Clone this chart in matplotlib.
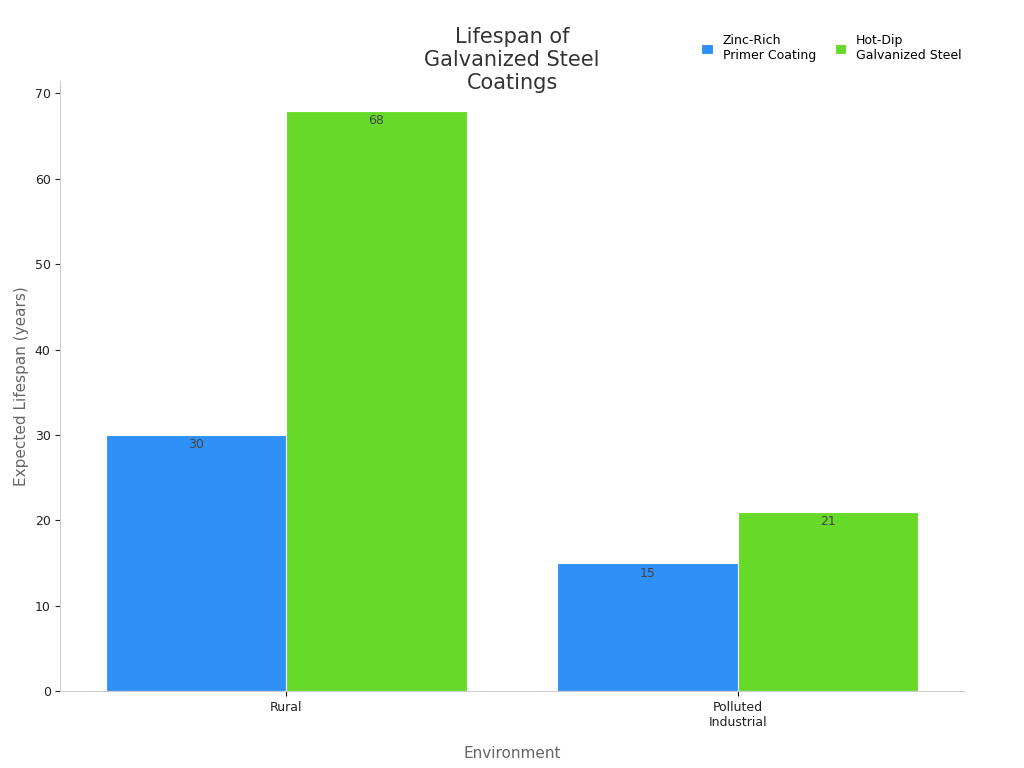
import matplotlib
matplotlib.use("Agg")
import matplotlib.pyplot as plt
import numpy as np

categories = ["Rural", "Polluted\nIndustrial"]
series_names = ["Zinc-Rich\nPrimer Coating", "Hot-Dip\nGalvanized Steel"]
zinc = [30, 15]
hotdip = [68, 21]
colors = ["#2f91f7", "#67da29"]

fig = plt.figure(figsize=(10.24, 7.68), dpi=100)
ax = fig.add_axes([0.059, 0.1, 0.882, 0.795])
x = np.arange(len(categories))
w = 0.4
for vals, off, c, name in [(zinc, -w/2, colors[0], series_names[0]), (hotdip, w/2, colors[1], series_names[1])]:
    bars = ax.bar(x + off, vals, w, color=c, edgecolor="white", linewidth=0.8, label=name)
    for b, v in zip(bars, vals):
        ax.text(b.get_x() + b.get_width()/2, v - 0.4, str(v), ha="center", va="top", fontsize=9, color="#444444")
ax.set_xlim(-0.5, 1.5)
ax.set_ylim(0, 71.5)
ax.set_xticks(x)
ax.set_xticklabels(categories, fontsize=9, color="#222222")
ax.set_yticks(range(0, 71, 10))
ax.tick_params(axis="y", labelsize=9, colors="#222222")
for s in ["top", "right"]:
    ax.spines[s].set_visible(False)
for s in ["left", "bottom"]:
    ax.spines[s].set_color("#cccccc")
ax.set_xlabel("Environment", fontsize=11, color="#666666", labelpad=12)
ax.set_ylabel("Expected Lifespan (years)", fontsize=11, color="#666666")
fig.text(0.5, 0.965, "Lifespan of\nGalvanized Steel\nCoatings", ha="center", va="top", fontsize=15, color="#333333")
fig.legend(loc="upper right", bbox_to_anchor=(0.95, 0.97), ncol=2, frameon=False, fontsize=9,
           handlelength=0.9, handleheight=0.9, columnspacing=1.5)
fig.savefig("out.png")
